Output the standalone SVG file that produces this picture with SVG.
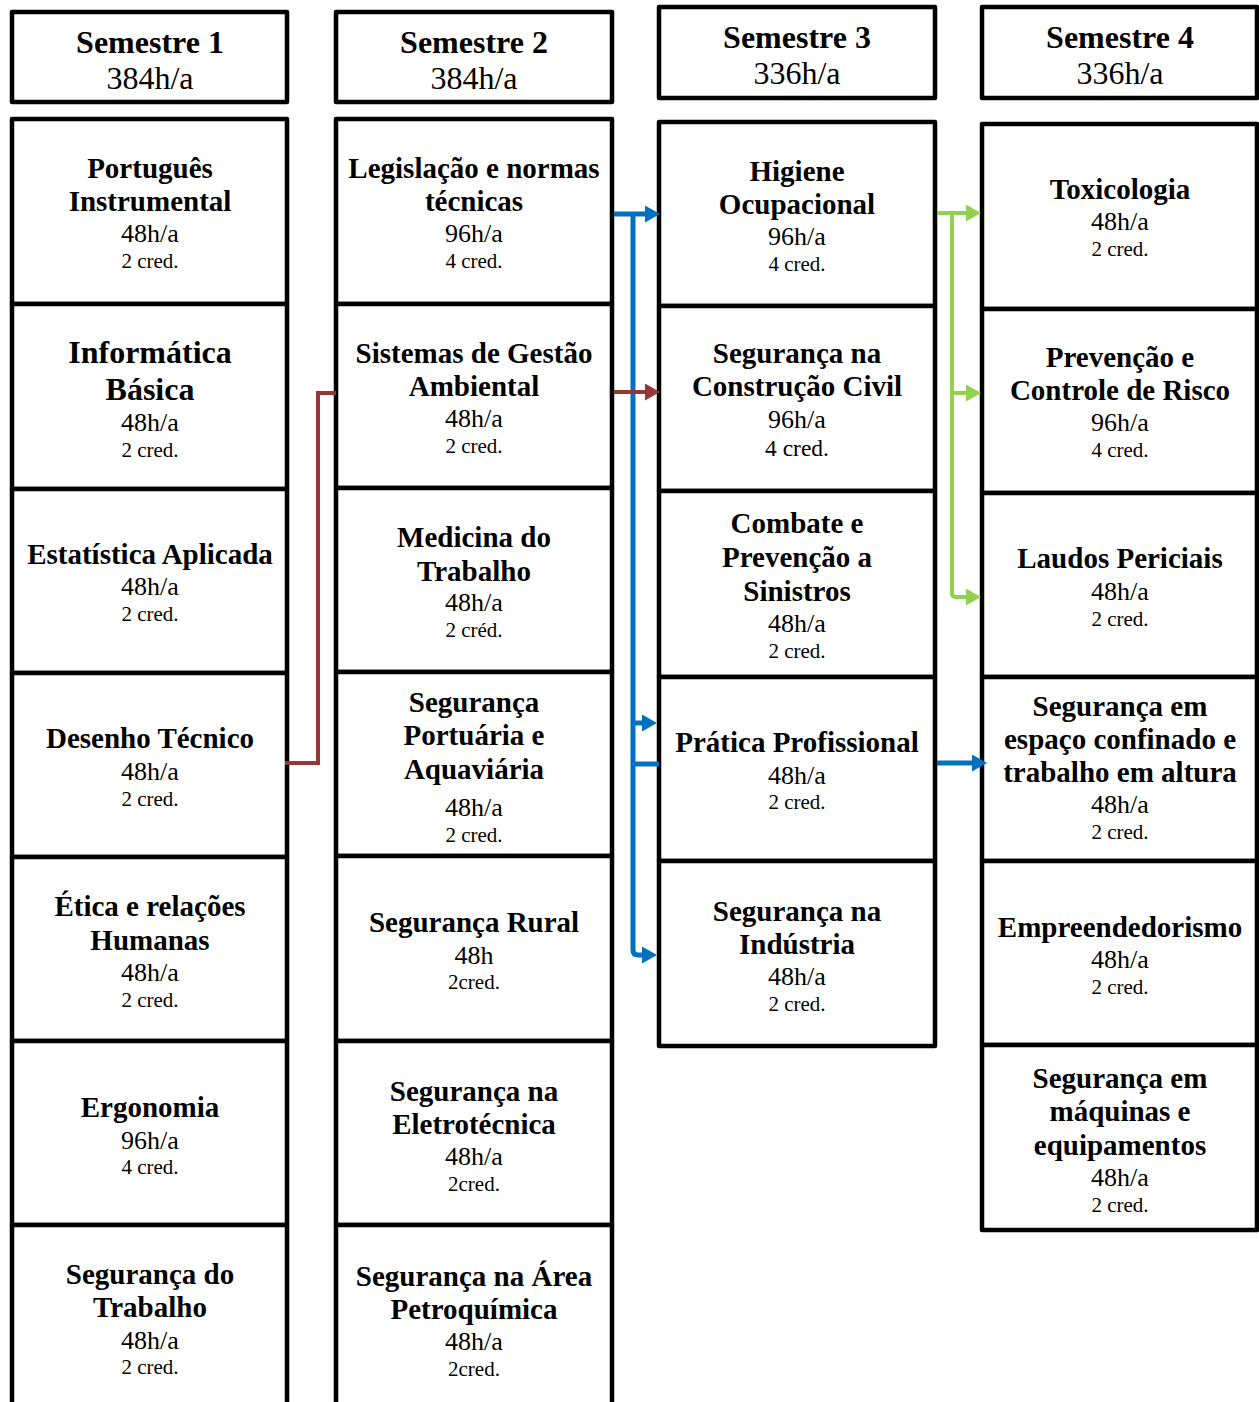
<svg xmlns="http://www.w3.org/2000/svg" width="1259" height="1402" viewBox="0 0 1259 1402">
<style>
.box{fill:#fff;stroke:#000;stroke-width:4.5;stroke-linejoin:round}
text{font-family:"Liberation Serif","Times New Roman",serif;text-anchor:middle;fill:#000}
.hd{font-size:32px;font-weight:bold}
.hh{font-size:32px}
.t{font-size:29px;font-weight:bold}
.tb{font-size:32px;font-weight:bold}
.h{font-size:26px}
.c{font-size:21px}
.c2{font-size:23.5px}
.blue{fill:none;stroke:#0070C0;stroke-width:5}
.red{fill:none;stroke:#953735;stroke-width:4}
.green{fill:none;stroke:#92D050;stroke-width:4}
</style>
<defs>
<marker id="ab" markerUnits="userSpaceOnUse" markerWidth="17" markerHeight="18" refX="5" refY="8.5" orient="auto"><path d="M0,0 L15,8.5 L0,17 z" fill="#0070C0"/></marker>
<marker id="ar" markerUnits="userSpaceOnUse" markerWidth="17" markerHeight="18" refX="5" refY="8.5" orient="auto"><path d="M0,0 L15,8.5 L0,17 z" fill="#953735"/></marker>
<marker id="ag" markerUnits="userSpaceOnUse" markerWidth="17" markerHeight="18" refX="5" refY="8.5" orient="auto"><path d="M0,0 L15,8.5 L0,17 z" fill="#92D050"/></marker>
</defs>
<rect width="1259" height="1402" fill="#fff"/>

<g id="s1"><rect class="box" x="12" y="12" width="275" height="90"/><text x="150" y="53" class="hd">Semestre 1</text><text x="150" y="89" class="hh">384h/a</text></g>
<g id="s2"><rect class="box" x="336" y="12" width="276" height="90"/><text x="474" y="53" class="hd">Semestre 2</text><text x="474" y="89" class="hh">384h/a</text></g>
<g id="s3"><rect class="box" x="659" y="7" width="276" height="91"/><text x="797" y="48" class="hd">Semestre 3</text><text x="797" y="84" class="hh">336h/a</text></g>
<g id="s4"><rect class="box" x="982" y="7" width="275" height="91"/><text x="1120" y="48" class="hd">Semestre 4</text><text x="1120" y="84" class="hh">336h/a</text></g>

<g id="portugues"><rect class="box" x="12" y="119" width="275" height="185"/><text x="150" y="178" class="t">Português</text><text x="150" y="211" class="t">Instrumental</text><text x="150" y="242" class="h">48h/a</text><text x="150" y="267.5" class="c">2 cred.</text></g>
<g id="informatica"><rect class="box" x="12" y="304" width="275" height="185"/><text x="150" y="363" class="tb">Informática</text><text x="150" y="400" class="tb">Básica</text><text x="150" y="431" class="h">48h/a</text><text x="150" y="456.5" class="c">2 cred.</text></g>
<g id="estatistica"><rect class="box" x="12" y="489" width="275" height="184"/><text x="150" y="564" class="t">Estatística Aplicada</text><text x="150" y="595" class="h">48h/a</text><text x="150" y="620.5" class="c">2 cred.</text></g>
<g id="desenho"><rect class="box" x="12" y="673" width="275" height="184"/><text x="150" y="748" class="t">Desenho Técnico</text><text x="150" y="780" class="h">48h/a</text><text x="150" y="805.5" class="c">2 cred.</text></g>
<g id="etica"><rect class="box" x="12" y="857" width="275" height="184"/><text x="150" y="916" class="t">Ética e relações</text><text x="150" y="950" class="t">Humanas</text><text x="150" y="981" class="h">48h/a</text><text x="150" y="1006.5" class="c">2 cred.</text></g>
<g id="ergonomia"><rect class="box" x="12" y="1041" width="275" height="184"/><text x="150" y="1117" class="t">Ergonomia</text><text x="150" y="1149" class="h">96h/a</text><text x="150" y="1173.5" class="c">4 cred.</text></g>
<g id="seg-trabalho"><rect class="box" x="12" y="1225" width="275" height="190"/><text x="150" y="1284" class="t">Segurança do</text><text x="150" y="1317" class="t">Trabalho</text><text x="150" y="1349" class="h">48h/a</text><text x="150" y="1373.5" class="c">2 cred.</text></g>

<g id="legislacao"><rect class="box" x="336" y="119" width="276" height="185"/><text x="474" y="178" class="t">Legislação e normas</text><text x="474" y="211" class="t">técnicas</text><text x="474" y="242" class="h">96h/a</text><text x="474" y="267.5" class="c">4 cred.</text></g>
<g id="gestao-ambiental"><rect class="box" x="336" y="304" width="276" height="184"/><text x="474" y="363" class="t">Sistemas de Gestão</text><text x="474" y="396" class="t">Ambiental</text><text x="474" y="427" class="h">48h/a</text><text x="474" y="452.5" class="c">2 cred.</text></g>
<g id="medicina"><rect class="box" x="336" y="488" width="276" height="184"/><text x="474" y="547" class="t">Medicina do</text><text x="474" y="581" class="t">Trabalho</text><text x="474" y="611" class="h">48h/a</text><text x="474" y="636.5" class="c">2 créd.</text></g>
<g id="portuaria"><rect class="box" x="336" y="672" width="276" height="184"/><text x="474" y="712" class="t">Segurança</text><text x="474" y="745" class="t">Portuária e</text><text x="474" y="779" class="t">Aquaviária</text><text x="474" y="816" class="h">48h/a</text><text x="474" y="841.5" class="c">2 cred.</text></g>
<g id="rural"><rect class="box" x="336" y="856" width="276" height="185"/><text x="474" y="932" class="t">Segurança Rural</text><text x="474" y="964" class="h">48h</text><text x="474" y="988.5" class="c">2cred.</text></g>
<g id="eletrotecnica"><rect class="box" x="336" y="1041" width="276" height="184"/><text x="474" y="1101" class="t">Segurança na</text><text x="474" y="1134" class="t">Eletrotécnica</text><text x="474" y="1165" class="h">48h/a</text><text x="474" y="1190.5" class="c">2cred.</text></g>
<g id="petroquimica"><rect class="box" x="336" y="1225" width="276" height="190"/><text x="474" y="1286" class="t">Segurança na Área</text><text x="474" y="1319" class="t">Petroquímica</text><text x="474" y="1350" class="h">48h/a</text><text x="474" y="1375.5" class="c">2cred.</text></g>

<g id="higiene"><rect class="box" x="659" y="122" width="276" height="184"/><text x="797" y="181" class="t">Higiene</text><text x="797" y="214" class="t">Ocupacional</text><text x="797" y="245" class="h">96h/a</text><text x="797" y="270.5" class="c">4 cred.</text></g>
<g id="construcao"><rect class="box" x="659" y="306" width="276" height="185"/><text x="797" y="363" class="t">Segurança na</text><text x="797" y="396" class="t">Construção Civil</text><text x="797" y="428" class="h">96h/a</text><text x="797" y="456" class="c2">4 cred.</text></g>
<g id="combate"><rect class="box" x="659" y="491" width="276" height="186"/><text x="797" y="533" class="t">Combate e</text><text x="797" y="567" class="t">Prevenção a</text><text x="797" y="601" class="t">Sinistros</text><text x="797" y="632" class="h">48h/a</text><text x="797" y="657.5" class="c">2 cred.</text></g>
<g id="pratica"><rect class="box" x="659" y="677" width="276" height="184"/><text x="797" y="752" class="t">Prática Profissional</text><text x="797" y="784" class="h">48h/a</text><text x="797" y="808.5" class="c">2 cred.</text></g>
<g id="industria"><rect class="box" x="659" y="861" width="276" height="185"/><text x="797" y="921" class="t">Segurança na</text><text x="797" y="954" class="t">Indústria</text><text x="797" y="985" class="h">48h/a</text><text x="797" y="1010.5" class="c">2 cred.</text></g>

<g id="toxicologia"><rect class="box" x="982" y="124" width="275" height="185"/><text x="1120" y="199" class="t">Toxicologia</text><text x="1120" y="230" class="h">48h/a</text><text x="1120" y="255.5" class="c">2 cred.</text></g>
<g id="prevencao"><rect class="box" x="982" y="309" width="275" height="184"/><text x="1120" y="367" class="t">Prevenção e</text><text x="1120" y="400" class="t">Controle de Risco</text><text x="1120" y="431" class="h">96h/a</text><text x="1120" y="456.5" class="c">4 cred.</text></g>
<g id="laudos"><rect class="box" x="982" y="493" width="275" height="184"/><text x="1120" y="568" class="t">Laudos Periciais</text><text x="1120" y="600" class="h">48h/a</text><text x="1120" y="625.5" class="c">2 cred.</text></g>
<g id="confinado"><rect class="box" x="982" y="677" width="275" height="184"/><text x="1120" y="716" class="t">Segurança em</text><text x="1120" y="749" class="t">espaço confinado e</text><text x="1120" y="782" class="t">trabalho em altura</text><text x="1120" y="813" class="h">48h/a</text><text x="1120" y="838.5" class="c">2 cred.</text></g>
<g id="empreendedorismo"><rect class="box" x="982" y="861" width="275" height="184"/><text x="1120" y="937" class="t">Empreendedorismo</text><text x="1120" y="968" class="h">48h/a</text><text x="1120" y="993.5" class="c">2 cred.</text></g>
<g id="maquinas"><rect class="box" x="982" y="1045" width="275" height="185"/><text x="1120" y="1088" class="t">Segurança em</text><text x="1120" y="1121" class="t">máquinas e</text><text x="1120" y="1155" class="t">equipamentos</text><text x="1120" y="1186" class="h">48h/a</text><text x="1120" y="1211.5" class="c">2 cred.</text></g>

<g id="connectors">
<path class="blue" d="M614,214 H650" marker-end="url(#ab)"/>
<path class="blue" d="M633,214 V950 Q633,955 638,955 H647" marker-end="url(#ab)"/>
<path class="blue" d="M633,723 H647" marker-end="url(#ab)"/>
<path class="blue" d="M633,764 H659"/>
<path class="blue" d="M937,763 H977" marker-end="url(#ab)"/>
<path class="red" d="M285,763 H318 V393 H336"/>
<path class="red" d="M614,392 H650" marker-end="url(#ar)"/>
<path class="green" d="M937,213 H971" marker-end="url(#ag)"/>
<path class="green" d="M952,213 V593 Q952,597 956,597 H971" marker-end="url(#ag)"/>
<path class="green" d="M952,393 H971" marker-end="url(#ag)"/>
</g>
</svg>
